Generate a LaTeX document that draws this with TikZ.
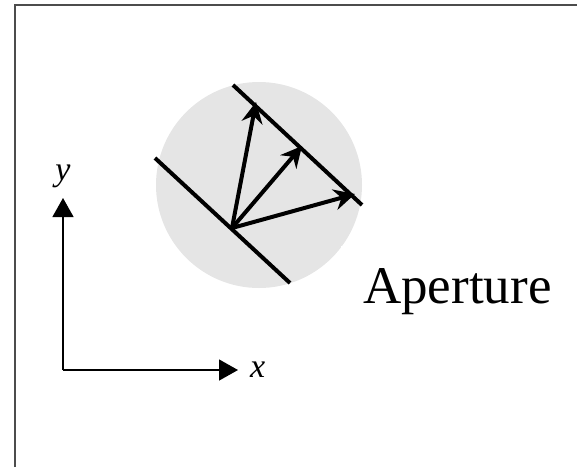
\documentclass[tikz,border=0pt]{standalone}
\usepackage{fontspec}
\setmainfont{Liberation Serif}
\usetikzlibrary{arrows.meta, positioning}

\begin{document}
\begin{tikzpicture}[
    x=1pt, y=-1pt,
    wave/.style={line width=4pt, black},
    ray/.style={-{Stealth[length=21pt, width=21pt, inset=7pt]}, line width=4pt},
    axis/.style={-{Triangle[length=19pt, width=21pt]}, line width=1.4pt},
    lbl/.style={font=\fontsize{34}{40}\selectfont\itshape, inner sep=0pt}
  ]
  \useasboundingbox (0,0) rectangle (577,467);

  % frame
  \draw[line width=2pt, black!70] (15,467) -- (15,5) -- (577,5);

  % aperture disc
  \fill[black!10] (259,185) circle (103);

  % wavefronts
  \coordinate (w1a) at (233,85);
  \coordinate (w1b) at (362,205);
  \coordinate (w2a) at (155,158);
  \coordinate (w2b) at (290,283);
  \draw[wave] (w1a) -- (w1b);
  \draw[wave] (w2a) -- (w2b);

  % rays
  \coordinate (src) at (232,228);
  \coordinate (t1) at (256,102);
  \coordinate (t2) at (302,146);
  \coordinate (t3) at (355,194);
  \foreach \t in {t1,t2,t3}
    \draw[ray] (src) -- (\t);

  \node[fill=white, inner sep=22pt, anchor=base west,
        font=\fontsize{53}{60}\selectfont] (ap) at (341,303) {Aperture};

  % axes
  \coordinate (O) at (63,370);
  \coordinate (xend) at (238,370);
  \coordinate (yend) at (63,198);
  \draw[axis] (O) -- (xend);
  \draw[axis] (O) -- (yend);
  \node[lbl, right=12pt of xend] (xl) {x};
  \node[lbl, above=10pt of yend] (yl) {y};
\end{tikzpicture}
\end{document}
